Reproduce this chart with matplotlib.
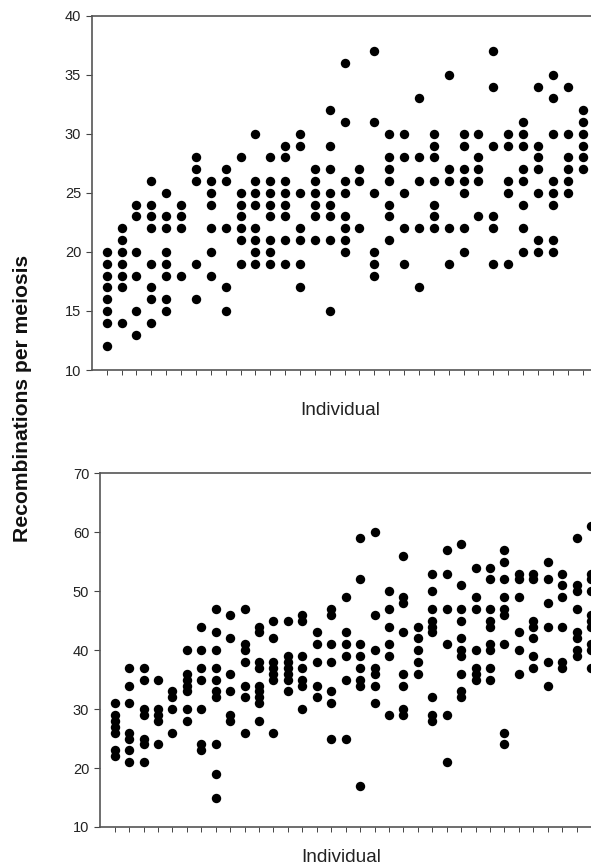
#!/usr/bin/env python3

import matplotlib.pyplot as plt

plt.rcParams['font.family'] = ['Liberation Sans', 'DejaVu Sans']

W, H = 591, 867

# recombination counts for each individual, top panel
top_counts = [
    [12, 14, 15, 16, 17, 18, 19, 20],
    [14, 17, 18, 19, 20, 21, 22],
    [13, 15, 18, 20, 23, 24],
    [14, 16, 17, 19, 22, 23, 24, 26],
    [15, 16, 18, 19, 20, 22, 23, 25],
    [18, 22, 23, 24],
    [16, 19, 26, 27, 28],
    [18, 20, 22, 24, 25, 26],
    [15, 17, 22, 26, 27],
    [19, 21, 22, 23, 24, 25, 28],
    [19, 20, 21, 22, 24, 25, 26, 30],
    [19, 20, 21, 23, 24, 25, 26, 28],
    [19, 21, 23, 24, 25, 26, 28, 29],
    [17, 19, 21, 22, 25, 29, 30],
    [21, 23, 24, 25, 26, 27],
    [15, 21, 23, 24, 25, 27, 29, 32],
    [20, 21, 22, 23, 25, 26, 31, 36],
    [22, 26, 27],
    [18, 19, 20, 25, 31, 37],
    [21, 23, 24, 26, 27, 28, 30],
    [19, 22, 25, 28, 30],
    [17, 22, 26, 28, 33],
    [22, 23, 24, 26, 28, 29, 30],
    [19, 22, 26, 27, 35],
    [20, 22, 25, 26, 27, 29, 30],
    [23, 26, 27, 28, 30],
    [19, 22, 23, 29, 34, 37],
    [19, 25, 26, 29, 30],
    [20, 22, 24, 26, 27, 29, 30, 31],
    [20, 21, 25, 27, 28, 29, 34],
    [20, 21, 24, 25, 26, 30, 33, 35],
    [25, 26, 27, 28, 30, 34],
    [27, 28, 29, 30, 31, 32],
]

# same for the bottom panel
bottom_counts = [
    [22, 23, 26, 27, 28, 29, 31],
    [21, 23, 25, 26, 31, 34, 37],
    [21, 24, 25, 29, 30, 35, 37],
    [24, 28, 29, 30, 35],
    [26, 30, 32, 33],
    [28, 30, 33, 34, 35, 36, 40],
    [23, 24, 30, 35, 37, 40, 44],
    [15, 19, 24, 32, 33, 35, 37, 40, 43, 47],
    [28, 29, 33, 36, 42, 46],
    [26, 32, 34, 38, 40, 41, 47],
    [28, 31, 32, 33, 34, 37, 38, 43, 44],
    [26, 35, 36, 37, 38, 42, 45],
    [33, 35, 36, 37, 38, 39, 45],
    [30, 34, 35, 37, 39, 45, 46],
    [32, 34, 38, 41, 43],
    [25, 31, 33, 38, 41, 46, 47],
    [25, 35, 39, 41, 43, 49],
    [17, 34, 35, 37, 39, 41, 52, 59],
    [31, 34, 36, 37, 40, 46, 60],
    [29, 39, 41, 44, 47, 50],
    [29, 30, 34, 36, 43, 48, 49, 56],
    [36, 38, 40, 42, 44],
    [28, 29, 32, 43, 44, 45, 47, 50, 53],
    [21, 29, 41, 47, 53, 57],
    [32, 33, 36, 39, 40, 42, 45, 47, 51, 58],
    [35, 36, 37, 40, 47, 49, 54],
    [35, 37, 40, 41, 44, 45, 47, 52, 54],
    [24, 26, 41, 46, 47, 49, 52, 55, 57],
    [36, 40, 43, 49, 52, 53],
    [37, 39, 42, 44, 45, 52, 53],
    [34, 38, 44, 48, 52, 55],
    [37, 38, 44, 49, 51, 53],
    [39, 40, 42, 43, 47, 50, 51, 59],
    [37, 40, 41, 44, 45, 46, 50, 52, 53, 61],
]

top_yticks = [10, 15, 20, 25, 30, 35, 40]
bottom_yticks = [10, 20, 30, 40, 50, 60, 70]


def panel(fig, counts, yticks, left, top, bottom, xlim):
    ax = fig.add_axes([left / W, 1 - bottom / H, (W - left) / W, (bottom - top) / H])
    for i, vals in enumerate(counts):
        ax.scatter([i + 1] * len(vals), vals, s=46, color='black', linewidths=0,
                   clip_on=False, zorder=3)
    ax.set_xlim(xlim)
    ax.set_ylim(yticks[0], yticks[-1])
    ax.set_yticks(yticks)
    ax.set_xticks(range(1, len(counts) + 1))
    ax.set_xticklabels([])
    ax.spines['right'].set_visible(False)
    for s in ['left', 'top', 'bottom']:
        ax.spines[s].set_color('#555555')
        ax.spines[s].set_linewidth(1.2)
    ax.tick_params(axis='y', length=4, width=0.8, color='#444444', labelsize=10.5,
                   labelcolor='#222222', pad=4)
    ax.tick_params(axis='x', length=3.5, width=0.7, color='#444444')
    return ax


fig = plt.figure(figsize=(W / 100, H / 100), dpi=100)

panel(fig, top_counts, top_yticks, 92.3, 15.7, 370, (0.03, 33.57))
panel(fig, bottom_counts, bottom_yticks, 100.3, 473.3, 827, (0.0, 34.0))

fig.text(340 / W, 1 - 411 / H, 'Individual', ha='center', va='center',
         fontsize=13.7, color='#222222')
fig.text(341 / W, 1 - 857 / H, 'Individual', ha='center', va='center',
         fontsize=13.7, color='#222222')
fig.text(22.5 / W, 1 - 398 / H, 'Recombinations per meiosis', rotation=90, ha='center',
         va='center', fontsize=15.2, fontweight='bold', color='#111111')

fig.savefig('out.png', dpi=100)
